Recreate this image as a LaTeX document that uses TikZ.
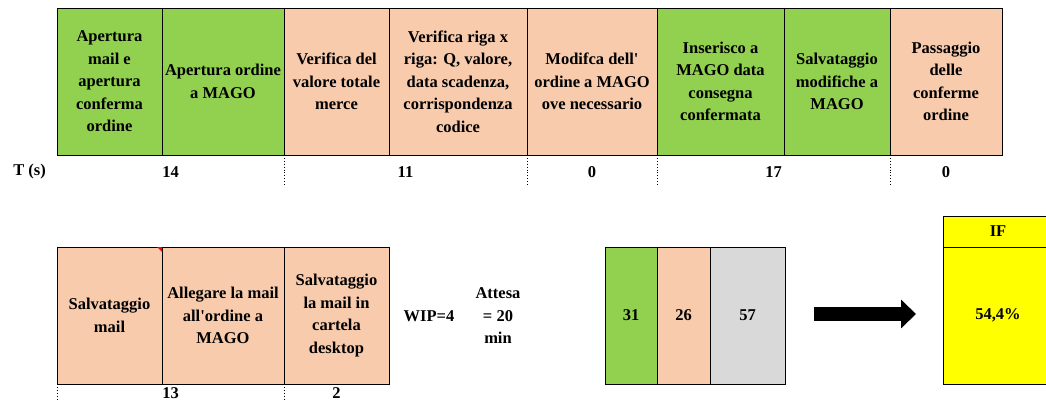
\documentclass[tikz,border=0pt]{standalone}
\usepackage{fontspec}
\setmainfont{Liberation Serif}
\usepackage{tikz}
\usetikzlibrary{positioning, arrows.meta, calc}
\usepackage{xcolor}
\definecolor{vagreen}{HTML}{92D050}
\definecolor{nvapeach}{HTML}{F8CBAD}
\definecolor{waitgray}{HTML}{D9D9D9}
\definecolor{ifyellow}{HTML}{FFFF00}
\tikzstyle{cell} = [rectangle, draw=black, line width=0.9pt, inner sep=1pt, outer sep=0pt, align=center, font=\fontsize{16.5}{22.5}\selectfont\bfseries]
\tikzstyle{toprow} = [cell, minimum height=147pt]
\tikzstyle{botrow} = [cell, minimum height=137pt]
\tikzstyle{lbl} = [inner sep=0pt, align=center, font=\fontsize{16.5}{22.5}\selectfont\bfseries]
\tikzstyle{sep} = [dotted, line width=0.9pt]
\tikzstyle{blockarrow} = [line width=14pt, -{Triangle[length=15pt, width=28pt]}]

\begin{document}
\begin{tikzpicture}[x=1pt, y=-1pt]
        \useasboundingbox (0,0) rectangle (1046,401);

        % Process steps
        \node (a1) [toprow, fill=vagreen, minimum width=105pt, anchor=north west] at (57,8) {Apertura\\mail e\\apertura\\conferma\\ordine};
        \node (a2) [toprow, fill=vagreen, minimum width=122pt, right=0pt of a1] {Apertura ordine\\a MAGO};
        \node (a3) [toprow, fill=nvapeach, minimum width=105pt, right=0pt of a2] {Verifica del\\valore totale\\merce};
        \node (a4) [toprow, fill=nvapeach, minimum width=138pt, right=0pt of a3] {Verifica riga x\\riga: Q, valore,\\data scadenza,\\corrispondenza\\codice};
        \node (a5) [toprow, fill=nvapeach, minimum width=130pt, right=0pt of a4] {Modifca dell\textquotesingle\\ordine a MAGO\\ove necessario};
        \node (a6) [toprow, fill=vagreen, minimum width=127pt, right=0pt of a5] {Inserisco a\\MAGO data\\consegna\\confermata};
        \node (a7) [toprow, fill=vagreen, minimum width=106pt, right=0pt of a6] {Salvataggio\\modifiche a\\MAGO};
        \node (a8) [toprow, fill=nvapeach, minimum width=112pt, right=0pt of a7] {Passaggio\\delle\\conferme\\ordine};

        % Times
        \node (tlbl) [lbl] at (29.6,172) {T (s)};
        \node (t1) [lbl] at (170.5,172) {14};
        \node (t2) [lbl] at (405.5,172) {11};
        \node (t3) [lbl] at (592,172) {0};
        \node (t4) [lbl] at (773.5,172) {17};
        \node (t5) [lbl] at (946,172) {0};
        \draw[sep] (a3.south west) -- ++(0,30);
        \draw[sep] (a5.south west) -- ++(0,30);
        \draw[sep] (a6.south west) -- ++(0,30);
        \draw[sep] (a8.south west) -- ++(0,30);

        % Second row
        \node (b1) [botrow, fill=nvapeach, minimum width=105pt, anchor=north west] at (57,247) {Salvataggio\\mail};
        \node (b2) [botrow, fill=nvapeach, minimum width=122pt, right=0pt of b1] {Allegare la mail\\all\textquotesingle ordine a\\MAGO};
        \node (b3) [botrow, fill=nvapeach, minimum width=105pt, right=0pt of b2] {Salvataggio\\la mail in\\cartela\\desktop};
        \fill[red] ($(b1.north east)+(-5,0)$) -- (b1.north east) -- ++(0,5) -- cycle;
        \node (t6) [lbl] at (170.5,393) {13};
        \node (t7) [lbl] at (336.5,393) {2};
        \draw[sep] (b1.south west) -- ++(0,17);
        \draw[sep] (b3.south west) -- ++(0,17);
        \node (wip) [lbl] at (429,316) {WIP=4};
        \node (wait) [lbl] at (498,316) {Attesa\\= 20\\min};

        % Summary
        \node (s1) [botrow, fill=vagreen, minimum width=52pt, anchor=north west] at (605,247) {31};
        \node (s2) [botrow, fill=nvapeach, minimum width=53pt, right=0pt of s1] {26};
        \node (s3) [botrow, fill=waitgray, minimum width=75pt, right=0pt of s2] {57};

        % Index
        \node (ifhead) [cell, fill=ifyellow, minimum width=110pt, minimum height=31pt, anchor=north west] at (943,216) {IF};
        \node (ifval) [botrow, fill=ifyellow, minimum width=110pt, below=0pt of ifhead] {54,4\%};

        \coordinate (arrstart) at ($(s3.east)+(29,-1.5)$);
        \coordinate (arrend) at ($(ifval.west)+(-27,-1.5)$);
        \draw[blockarrow] (arrstart) -- (arrend);
    \end{tikzpicture}
\end{document}
